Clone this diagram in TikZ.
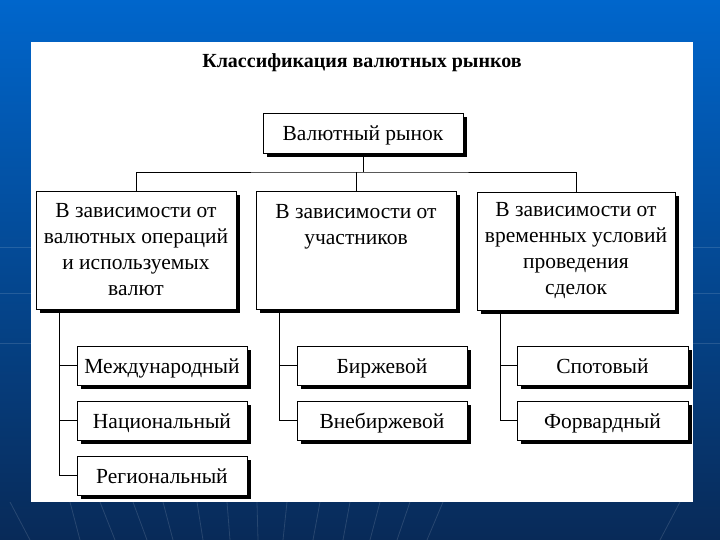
\documentclass[tikz,border=0pt]{standalone}
\usepackage{fontspec}
\setmainfont{Liberation Serif}
\usetikzlibrary{shadows}
\definecolor{bgtop}{RGB}{0,102,204}
\definecolor{bgmid}{RGB}{10,72,145}
\definecolor{bgbot}{RGB}{8,42,88}
\tikzset{
  box/.style={draw=black, line width=0.9pt, fill=white, inner sep=0pt, align=center,
    font=\fontsize{21.5}{26}\selectfont,
    drop shadow={shadow xshift=4pt, shadow yshift=-4pt, fill=black, opacity=1}},
  bigbox/.style={box, minimum width=200pt, minimum height=118pt},
  onerow/.style={text height=18pt, text depth=2pt},
  leaf/.style={box, onerow, minimum width=170pt, minimum height=39pt},
  link/.style={draw=black, line width=0.9pt},
  ray/.style={draw=white, opacity=0.13, line width=0.8pt}
}
\begin{document}
\begin{tikzpicture}[x=1pt, y=-1pt]
\useasboundingbox (0,0) rectangle (720,540);
% background
\shade[top color=bgtop, middle color=bgmid, bottom color=bgbot] (0,0) rectangle (720,540);
\foreach \yy in {247,293,343} \draw[ray] (0,\yy) -- (720,\yy);
\foreach \a/\b in {70/80,100/115,133/147,163/173,197/203,227/230,257/258,287/283,320/313,350/343,380/370,410/397,443/427,10/30,680/660}
  \draw[ray] (\a,502) -- (\b,540);
% panel
\fill[white] (31,42) rectangle (693,502);
% title
\node[font=\fontsize{20}{24}\selectfont\bfseries] (title) at (362,63) {Классификация валютных рынков};
% root
\node[box, onerow, minimum width=200pt, minimum height=40pt] (root) at (363,133) {Валютный рынок};
% level 1
\node[bigbox] (b1) at (136,250) {В зависимости от\\валютных операций\\и используемых\\валют};
\node[bigbox] (b2) at (356,250) {В зависимости от\\участников\\\phantom{x}\\\phantom{x}};
\node[bigbox, minimum width=198pt] (b3) at (576,251) {В зависимости от\\временных условий\\проведения\\сделок};
% leaves
\node[leaf] (c11) at (162,365.5) {Международный};
\node[leaf] (c12) at (162,420.5) {Национальный};
\node[leaf] (c13) at (162,475.5) {Региональный};
\node[leaf] (c21) at (382,365.5) {Биржевой};
\node[leaf] (c22) at (382,420.5) {Внебиржевой};
\node[leaf, minimum width=171pt] (c31) at (602.5,365.5) {Спотовый};
\node[leaf, minimum width=171pt] (c32) at (602.5,420.5) {Форвардный};
% connectors
\coordinate (bus) at (363,172);
\draw[link] (root.south) -- (bus);
\draw[link] (b1.north) |- (bus) -| (b3.north);
\draw[link] (b2.north) -- (b2.north |- bus);
\coordinate (t1) at ([xshift=24pt]b1.south west);
\coordinate (t2) at ([xshift=24pt]b2.south west);
\coordinate (t3) at ([xshift=24pt]b3.south west);
\draw[link] (t1) |- (c13.west);
\draw[link] (c11.west) -- (c11.west -| t1);
\draw[link] (c12.west) -- (c12.west -| t1);
\draw[link] (t2) |- (c22.west);
\draw[link] (c21.west) -- (c21.west -| t2);
\draw[link] (t3) |- (c32.west);
\draw[link] (c31.west) -- (c31.west -| t3);
\end{tikzpicture}
\end{document}
